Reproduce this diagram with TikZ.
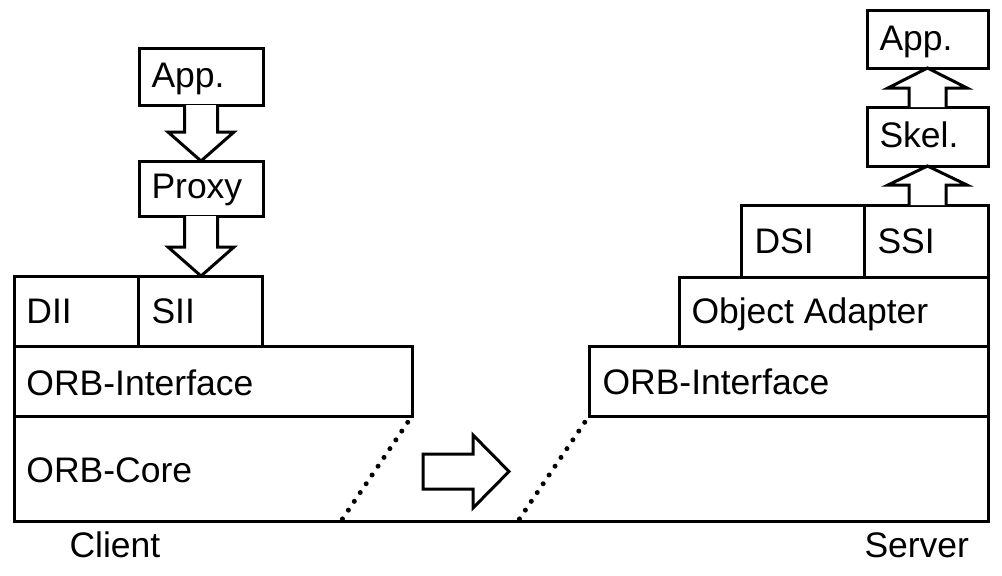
\documentclass[tikz,border=0pt]{standalone}
\usepackage{fontspec}
\setmainfont{Liberation Sans}
\usetikzlibrary{calc}
\begin{document}
\begin{tikzpicture}[x=1pt,y=-1pt,line width=3pt,
  box/.style={draw,line width=3pt,anchor=north west,inner sep=0pt,outer sep=0pt},
  txt/.style={anchor=base west,inner sep=0pt,font=\fontsize{35.5}{40}\selectfont},
  blk/.style={draw,line width=3pt,fill=white,line join=miter},
  dotline/.style={line width=5pt,dash pattern=on 0pt off 10.6pt,line cap=round}]
\useasboundingbox (0,0) rectangle (1002,576);
% ---- client side ----
\node[box,minimum width=124pt,minimum height=70pt] (dii) at (14,276) {};
\node[box,minimum width=124pt,minimum height=70pt] (sii) at (138,276) {};
\node[box,minimum width=398pt,minimum height=70pt] (orbic) at (14,346) {};
\node[box,minimum width=124pt,minimum height=57pt] (app1) at (139,48) {};
\node[box,minimum width=124pt,minimum height=55pt] (proxy) at (139,161) {};
% ---- server side ----
\node[box,minimum width=399pt,minimum height=70pt] (orbis) at (589,346) {};
\node[box,minimum width=309pt,minimum height=69pt] (oa) at (679,277) {};
\node[box,minimum width=123pt,minimum height=72pt] (dsi) at (741,205) {};
\node[box,minimum width=124pt,minimum height=72pt] (ssi) at (864,205) {};
\node[box,minimum width=121pt,minimum height=59pt] (skel) at (867,107) {};
\node[box,minimum width=121pt,minimum height=58pt] (app2) at (867,10) {};
% ---- core ----
\coordinate (corebl) at (14,521);
\coordinate (corebr) at (988,521);
\draw (orbic.south west) -- (corebl) -- (corebr) -- (orbis.south east);
% ---- texts ----
\node[txt] (tdii) at ($(dii.north west)+(11,47)$) {DII};
\node[txt] (tsii) at ($(sii.north west)+(12,47)$) {SII};
\node[txt] (torbic) at ($(orbic.north west)+(11,49)$) {ORB-Interface};
\node[txt] (tcore) at (25,482) {ORB-Core};
\node[txt] (tclient) at (68,557) {Client};
\node[txt] (tapp1) at ($(app1.north west)+(11,39)$) {App.};
\node[txt] (tproxy) at ($(proxy.north west)+(11,37)$) {Proxy};
\node[txt] (torbis) at ($(orbis.north west)+(12,48)$) {ORB-Interface};
\node[txt] (toa) at ($(oa.north west)+(11,46)$) {Object Adapter};
\node[txt] (tdsi) at ($(dsi.north west)+(12,48)$) {DSI};
\node[txt] (tssi) at ($(ssi.north west)+(12,48)$) {SSI};
\node[txt] (tskel) at ($(skel.north west)+(11,40)$) {Skel.};
\node[txt] (tapp2) at ($(app2.north west)+(11,40)$) {App.};
\node[txt] (tserver) at (863,557) {Server};
% ---- client block arrows (down) ----
\draw[blk] ($(app1.south)+(-16.5,0)$) -- ($(app1.south)+(-16.5,27)$) -- ($(app1.south)+(-33,27)$)
  -- (proxy.north) -- ($(app1.south)+(33,27)$) -- ($(app1.south)+(16.5,27)$) -- ($(app1.south)+(16.5,0)$);
\coordinate (tip2) at (proxy.south |- sii.north);
\draw[blk] ($(proxy.south)+(-16.5,0)$) -- ($(proxy.south)+(-16.5,31)$) -- ($(proxy.south)+(-33,31)$)
  -- (tip2) -- ($(proxy.south)+(33,31)$) -- ($(proxy.south)+(16.5,31)$) -- ($(proxy.south)+(16.5,0)$);
% ---- server block arrows (up) ----
\draw[blk] ($(skel.north)+(-18.5,0)$) -- ($(skel.north)+(-18.5,-19)$) -- ($(skel.north)+(-39.5,-19)$)
  -- (app2.south) -- ($(skel.north)+(39.5,-19)$) -- ($(skel.north)+(18.5,-19)$) -- ($(skel.north)+(18.5,0)$);
\coordinate (base4) at (skel.south |- ssi.north);
\draw[blk] ($(base4)+(-18.5,0)$) -- ($(base4)+(-18.5,-20)$) -- ($(base4)+(-39.5,-20)$)
  -- (skel.south) -- ($(base4)+(39.5,-20)$) -- ($(base4)+(18.5,-20)$) -- ($(base4)+(18.5,0)$);
% ---- transfer arrow ----
\draw[blk] (423,454) -- (473,454) -- (473,435) -- (509,471.5) -- (473,508) -- (473,489) -- (423,489) -- cycle;
% ---- dotted boundaries ----
\coordinate (d1) at (341,521);
\coordinate (d2) at (518,521);
\draw[dotline] ($(orbic.south east)!0.06!(d1)$) -- ($(orbic.south east)!0.98!(d1)$);
\draw[dotline] ($(orbis.south west)!0.06!(d2)$) -- ($(orbis.south west)!0.98!(d2)$);
\end{tikzpicture}
\end{document}
